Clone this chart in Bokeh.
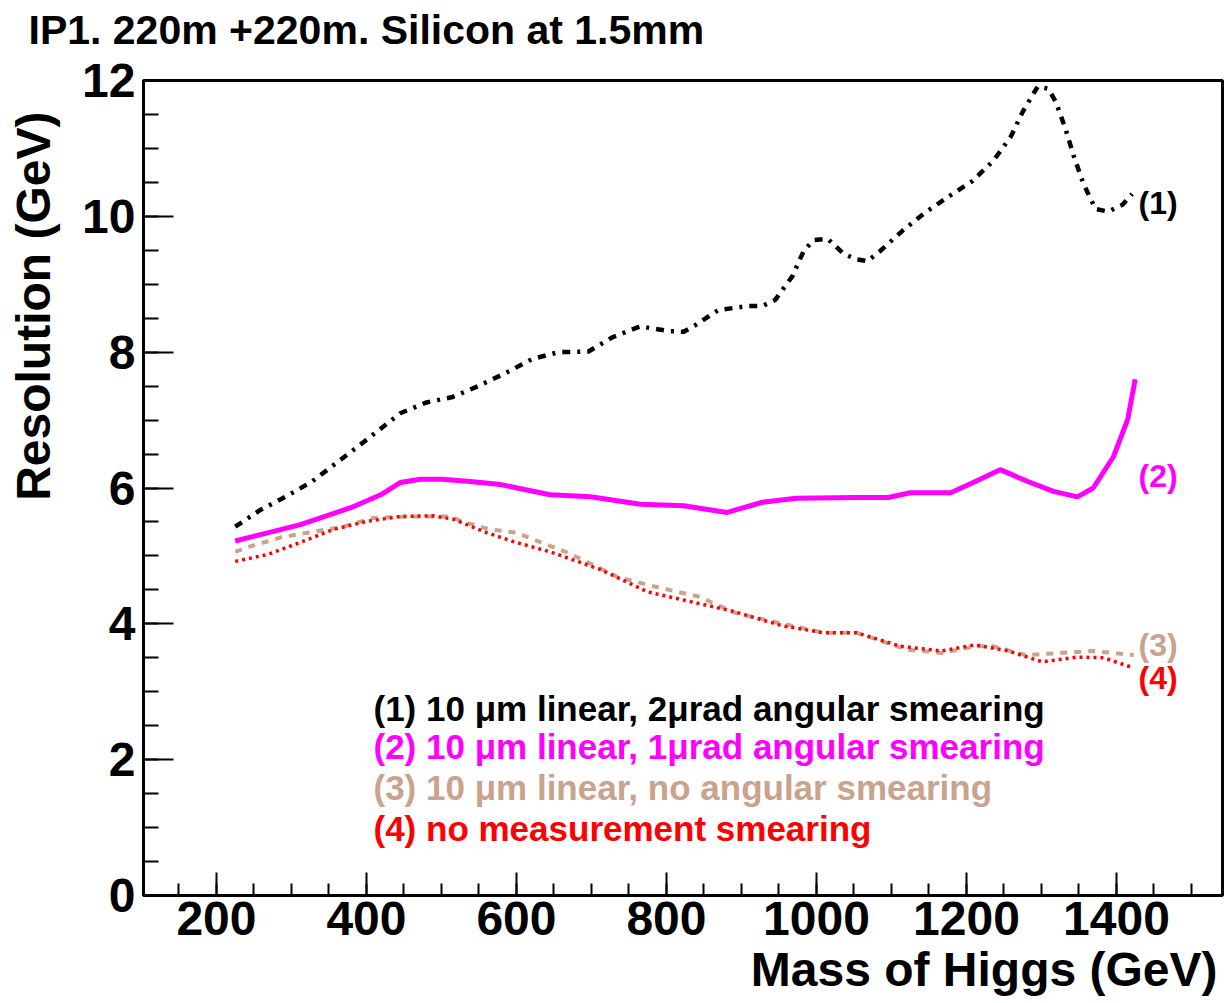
import math
from bokeh.plotting import figure
from bokeh.models import Range1d, SingleIntervalTicker, Label, Title
from bokeh.layouts import column, row
from bokeh.embed import file_html
from bokeh.resources import INLINE

# ---- data ----
mass_1 = [225, 259, 292, 328, 392, 445, 480, 515, 549, 585, 621, 656, 696, 728, 765,
          803, 823, 839, 869, 909, 928, 945, 968, 983, 996, 1015, 1036, 1052, 1068,
          1085, 1115, 1143, 1176, 1208, 1236, 1259, 1275, 1295, 1309, 1319, 1332,
          1343, 1356, 1372, 1389, 1408, 1421]
res_1 = [5.43, 5.68, 5.87, 6.10, 6.64, 7.10, 7.26, 7.34, 7.50, 7.69, 7.90, 8.00, 8.01,
         8.22, 8.38, 8.31, 8.30, 8.40, 8.62, 8.68, 8.68, 8.77, 9.12, 9.49, 9.65, 9.67,
         9.45, 9.37, 9.34, 9.49, 9.79, 10.04, 10.29, 10.52, 10.82, 11.17, 11.54, 11.91,
         11.88, 11.69, 11.29, 10.89, 10.48, 10.11, 10.07, 10.17, 10.33]

mass_2 = [225, 312, 379, 419, 445, 472, 500, 535, 579, 645, 699, 765, 823, 881, 928,
          973, 1052, 1096, 1125, 1179, 1209, 1245, 1281, 1316, 1348, 1369, 1396, 1415, 1425]
res_2 = [5.22, 5.46, 5.71, 5.90, 6.08, 6.13, 6.13, 6.10, 6.05, 5.90, 5.87, 5.76, 5.74,
         5.64, 5.79, 5.85, 5.86, 5.86, 5.93, 5.93, 6.08, 6.27, 6.10, 5.95, 5.87, 6.00,
         6.46, 7.01, 7.60]

mass_3 = [225, 245, 285, 321, 369, 409, 455, 512, 529, 565, 601, 623, 668, 735, 784,
          843, 892, 955, 1009, 1053, 1121, 1167, 1212, 1235, 1279, 1324, 1369, 1423]
res_3 = [5.06, 5.14, 5.27, 5.34, 5.43, 5.56, 5.58, 5.58, 5.50, 5.39, 5.34, 5.24, 5.05,
         4.69, 4.55, 4.40, 4.16, 4.00, 3.87, 3.87, 3.62, 3.57, 3.67, 3.67, 3.54, 3.57,
         3.60, 3.54]

mass_4 = [225, 268, 312, 356, 401, 445, 489, 516, 561, 596, 645, 712, 775, 843, 887,
          955, 1009, 1053, 1112, 1167, 1212, 1256, 1301, 1347, 1383, 1423]
res_4 = [4.92, 5.02, 5.20, 5.39, 5.51, 5.58, 5.59, 5.54, 5.34, 5.21, 5.06, 4.80, 4.47,
         4.30, 4.19, 3.97, 3.87, 3.87, 3.67, 3.60, 3.69, 3.60, 3.44, 3.51, 3.50, 3.35]

legend_texts = ["(1) 10 \u03bcm linear, 2\u03bcrad angular smearing",
                "(2) 10 \u03bcm linear, 1\u03bcrad angular smearing",
                "(3) 10 \u03bcm linear, no angular smearing",
                "(4) no measurement smearing"]
curve_tags = ["(1)", "(2)", "(3)", "(4)"]
colors = ["#000000", "#ff00ff", "#c9a38d", "#ff0000"]
title_text = "IP1. 220m +220m. Silicon at 1.5mm"
x_title = "Mass of Higgs (GeV)"
y_title = "Resolution (GeV)"

FONT = "Liberation Sans"

TOP_H = 53
LEFT_W = 76
MAIN_H = 1003 - TOP_H


def blank(w, h):
    f = figure(width=w, height=h, output_backend="svg", toolbar_location=None,
               x_range=Range1d(0, 1), y_range=Range1d(0, 1),
               x_axis_location=None, y_axis_location=None, min_border=0)
    f.grid.visible = False
    f.outline_line_color = None
    f.background_fill_color = "white"
    f.border_fill_color = "white"
    return f


def lab(fig, text, x, y, size, color="black"):
    fig.add_layout(Label(text=text, x=x, y=y, x_units="screen", y_units="screen",
                         text_font=FONT, text_font_style="bold",
                         text_font_size=size, text_color=color,
                         text_baseline="alphabetic"))


# top strip with the title
top = blank(1228, TOP_H)
lab(top, title_text, 28, 24, "41px")

# left strip with the y-axis title (a vertical Title, top-aligned)
left = blank(LEFT_W, MAIN_H)
left.add_layout(Title(text=y_title, align="right", vertical_align="top",
                      offset=80 - TOP_H + 4, standoff=12,
                      text_font=FONT, text_font_style="bold",
                      text_font_size="48px", text_color="black"), "left")

# main plot
p = figure(width=1228 - LEFT_W, height=MAIN_H, output_backend="svg",
           toolbar_location=None,
           x_range=Range1d(102.7, 1541.4), y_range=Range1d(0, 12),
           min_border_left=143 - LEFT_W, min_border_right=6,
           min_border_top=80 - TOP_H, min_border_bottom=108)
p.grid.visible = False
p.outline_line_color = "black"
p.outline_line_width = 3
p.background_fill_color = "white"
p.border_fill_color = "white"

p.xaxis.ticker = SingleIntervalTicker(interval=200, num_minor_ticks=4)
p.yaxis.ticker = SingleIntervalTicker(interval=2, num_minor_ticks=4)
for ax in (p.xaxis, p.yaxis):
    ax.axis_line_width = 3
    ax.major_tick_line_width = 2
    ax.minor_tick_line_width = 2
    ax.major_tick_out = 0
    ax.minor_tick_out = 0
    ax.major_label_text_font = FONT
    ax.major_label_text_font_style = "bold"
    ax.major_label_text_font_size = "48px"
    ax.major_label_text_color = "black"
p.xaxis.major_tick_in = 23
p.xaxis.minor_tick_in = 12
p.yaxis.major_tick_in = 30
p.yaxis.minor_tick_in = 15
p.xaxis.major_label_standoff = 6
p.yaxis.major_label_standoff = 8

# curves
p.line(mass_1, res_1, line_color=colors[0], line_width=4.5, line_dash="8 7 3 7")
p.line(mass_2, res_2, line_color=colors[1], line_width=5)
p.line(mass_3, res_3, line_color=colors[2], line_width=4, line_dash="7 7")
p.line(mass_4, res_4, line_color=colors[3], line_width=3.5, line_dash="3 4")

xt = Title(text=x_title, align="right", offset=5,
           text_font=FONT, text_font_style="bold", text_font_size="48px",
           text_color="black", standoff=6)
p.add_layout(xt, "below")

# legend texts (frame-relative positions)
for txt, col, yy in zip(legend_texts, colors, [187, 149, 108, 67]):
    lab(p, txt, 230, yy, "35px", color=col)

# curve tags at right
for tag, col, yy in zip(curve_tags, colors, [693, 420, 251, 218]):
    lab(p, tag, 995, yy, "32px", color=col)

layout = column(top, row(left, p, spacing=0), spacing=0)
open("out.html", "w").write(file_html(layout, INLINE))
